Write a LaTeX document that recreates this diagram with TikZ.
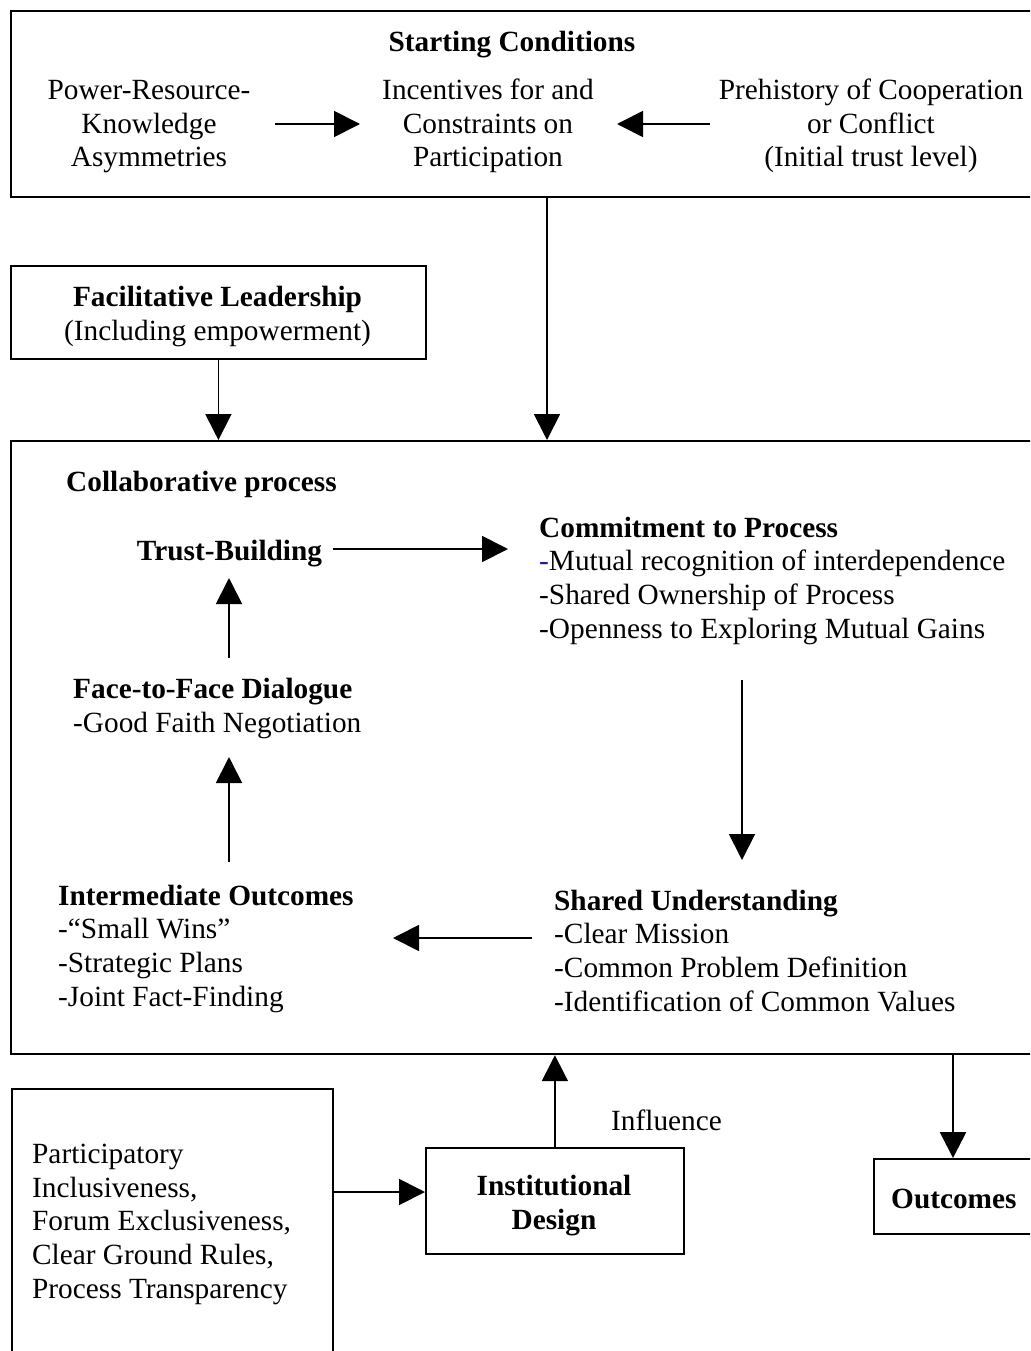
\documentclass[tikz,border=0pt]{standalone}
\usepackage{fontspec}
\setmainfont{Liberation Serif}
\usetikzlibrary{arrows.meta,calc}
\definecolor{dashblue}{RGB}{20,20,210}
\begin{document}
\begin{tikzpicture}[x=1pt,y=-1pt,
  box/.style={draw, line width=1.8pt, inner sep=0pt, anchor=north west},
  arr/.style={line width=1.8pt, -{Triangle[length=26pt,width=26pt]}},
  txt/.style={inner sep=0pt, font=\fontsize{29.3}{33.6}\selectfont},
  btxt/.style={inner sep=0pt, font=\fontsize{29.3}{33.6}\selectfont\bfseries}]
\useasboundingbox (0,0) rectangle (1030,1351);
\fill[white] (0,0) rectangle (1030,1351);
\clip (0,0) rectangle (1030,1351);

% ---- starting conditions (multi-line texts are placed by their last baseline)
\node[box, minimum width=1040pt, minimum height=186pt] (start) at (10,10) {};
\node[btxt, anchor=base] (sctitle) at (512,52) {Starting Conditions};
\node[txt, anchor=base, align=center] (power) at (149,167)
  {Power-Resource-\\Knowledge\\Asymmetries};
\node[txt, anchor=base, align=center] (incent) at (488,167)
  {Incentives for and\\Constraints on\\Participation};
\node[txt, anchor=base, align=center] (prehist) at (871,167)
  {Prehistory of Cooperation\\or Conflict\\(Initial trust level)};
\draw[arr] ($(power.base)+(126,-43)$) -- ($(incent.base)+(-128,-43)$);
\draw[arr] ($(prehist.base)+(-161,-43)$) -- ($(incent.base)+(129,-43)$);

% ---- facilitative leadership
\node[box, minimum width=415pt, minimum height=93pt] (facil) at (10,265) {};
\node[txt, anchor=base, align=center] (factxt) at (217.5,340)
  {\textbf{Facilitative Leadership}\\(Including empowerment)};

% ---- collaborative process
\node[box, line width=2.2pt, minimum width=1040pt, minimum height=613pt] (collab) at (10,440) {};
\draw[arr] ($(start.south west)+(537,0)$) -- ($(collab.north west)+(537,0)$);
\draw[arr] (facil.south) -- (facil.south |- collab.north);

\node[btxt, anchor=base west] (ctitle) at (66,491) {Collaborative process};
\node[btxt, anchor=base] (trust) at (229.5,560) {Trust-Building};
\node[txt, anchor=base west, align=left] (commit) at (539,638)
  {\textbf{Commitment to Process}\\
   \textcolor{dashblue}{-}Mutual recognition of interdependence\\
   -Shared Ownership of Process\\
   -Openness to Exploring Mutual Gains};
\node[txt, anchor=base west, align=left] (shared) at (554,1011)
  {\textbf{Shared Understanding}\\
   -Clear Mission\\
   -Common Problem Definition\\
   -Identification of Common Values};
\node[txt, anchor=base west, align=left] (inter) at (58,1006)
  {\textbf{Intermediate Outcomes}\\
   -“Small Wins”\\
   -Strategic Plans\\
   -Joint Fact-Finding};
\node[txt, anchor=base west, align=left] (face) at (73,732)
  {\textbf{Face-to-Face Dialogue}\\
   -Good Faith Negotiation};

\draw[arr] ($(trust.base)+(103.5,-11)$) -- ($(commit.base west)+(-31,-89)$);
\draw[arr] ($(commit.base west)+(203,42)$) -- ($(shared.base west)+(188,-151)$);
\draw[arr] ($(shared.base west)+(-22,-73)$) -- ($(inter.base west)+(335,-68)$);
\draw[arr] ($(inter.base west)+(171,-144)$) -- ($(face.base west)+(156,25)$);
\draw[arr] ($(face.base west)+(156,-74)$) -- ($(trust.base)+(-0.5,18)$);

% ---- institutional design and outcomes
\node[box, minimum width=258pt, minimum height=106pt] (inst) at (425,1147) {};
\node[btxt, anchor=base, align=center] (insttxt) at (554,1229) {Institutional\\Design};
\draw[arr] (inst.north) -- (inst.north |- collab.south);
\node[txt, anchor=base west] (infl) at (611,1130) {Influence};

\node[box, minimum width=321pt, minimum height=300pt] (partic) at (11,1088) {};
\node[txt, anchor=base west, align=left] (partxt) at (32,1298)
  {Participatory\\Inclusiveness,\\Forum Exclusiveness,\\Clear Ground Rules,\\Process Transparency};
\draw[arr] ($(partic.north east)+(0,104)$) -- ($(inst.north west)+(0,45)$);

\node[box, minimum width=200pt, minimum height=75pt] (outbox) at (873,1158) {};
\node[btxt, anchor=base west] (outtxt) at (891,1208) {Outcomes};
\draw[arr, line width=2.6pt] ($(collab.south west)+(943,0)$) -- ($(outbox.north west)+(80,0)$);
\end{tikzpicture}
\end{document}
